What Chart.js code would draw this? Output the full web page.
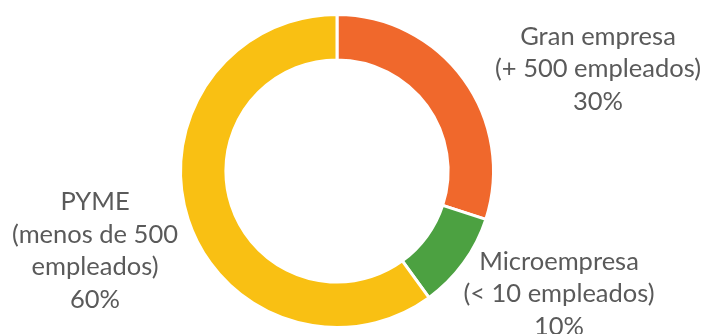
<!DOCTYPE html>
<html>
<head>
<meta charset="utf-8">
<script src="https://cdn.jsdelivr.net/npm/chart.js@4.4.0/dist/chart.umd.min.js"></script>
<style>
    html, body { margin: 0; padding: 0; background: #ffffff; }
    .wrap { width: 707px; height: 334px; position: relative; }
</style>
</head>
<body>
<div class="wrap"><canvas id="chart"></canvas></div>
<script>
// Data
const categories = [
    ['Gran empresa', '(+ 500 empleados)'],
    ['Microempresa', '(< 10 empleados)'],
    ['PYME', '(menos de 500', 'empleados)']
];
const shares = [30, 10, 60];
const sliceColors = ['#F0682C', '#4CA141', '#F9C013'];

// Label block centres, relative to the doughnut centre
const labelOffsets = [
    { dx: 261, dy: -102 },
    { dx: 222, dy: 123 },
    { dx: -242, dy: 80 }
];

const sliceLabels = {
    id: 'sliceLabels',
    afterDraw(chart) {
        const meta = chart.getDatasetMeta(0);
        const ctx = chart.ctx;
        const lineHeight = 32.5;
        ctx.save();
        ctx.font = '25.5px Lato, "Open Sans", sans-serif';
        ctx.fillStyle = '#5a5a5a';
        ctx.textAlign = 'center';
        ctx.textBaseline = 'middle';
        meta.data.forEach((arc, i) => {
            const lines = categories[i].concat([shares[i] + '%']);
            const cx = arc.x + labelOffsets[i].dx;
            const cy = arc.y + labelOffsets[i].dy;
            const top = cy - (lines.length - 1) * lineHeight / 2;
            lines.forEach((line, j) => ctx.fillText(line, cx, top + j * lineHeight));
        });
        ctx.restore();
    }
};

new Chart(document.getElementById('chart'), {
    type: 'doughnut',
    data: {
        labels: categories.map(c => c.join(' ')),
        datasets: [{
            data: shares,
            backgroundColor: sliceColors,
            borderColor: '#ffffff',
            borderWidth: 3
        }]
    },
    options: {
        responsive: true,
        maintainAspectRatio: false,
        animation: false,
        cutout: '71%',
        layout: { padding: { top: 13, bottom: 5, left: 179, right: 212 } },
        plugins: {
            legend: { display: false },
            tooltip: { enabled: false }
        }
    },
    plugins: [sliceLabels]
});
</script>
</body>
</html>
